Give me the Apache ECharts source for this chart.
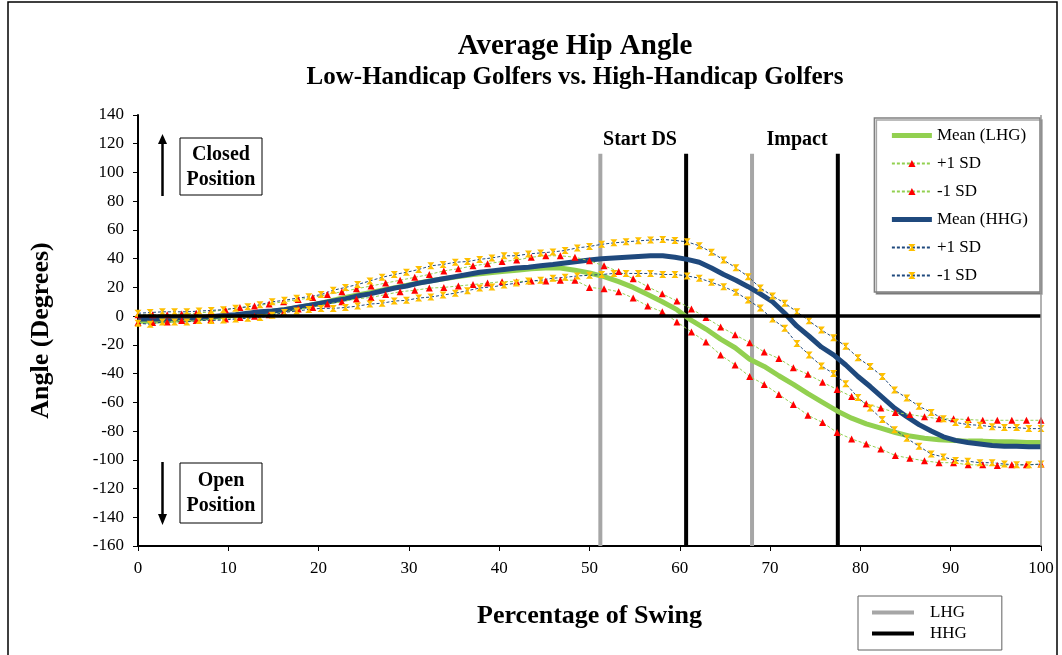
<!DOCTYPE html>
<html>
<head>
<meta charset="utf-8">
<script src="https://cdn.jsdelivr.net/npm/echarts@6/dist/echarts.min.js"></script>
<style>
  html, body { margin: 0; padding: 0; background: #fff; }
  #hip-angle { width: 1062px; height: 655px; }
</style>
</head>
<body>
<div id="hip-angle"></div>
<script>
// sample positions (% of swing) for each group
const lhgX = Array.from({ length: 63 }, (_, i) => +(i * 100 / 62).toFixed(2));
const hhgX = Array.from({ length: 75 }, (_, i) => +(i * 100 / 74).toFixed(2));

// low-handicap golfers
const lhgMean = [-3.5, -3.5, -3, -2.5, -2, -1, 0, 1, 2, 3, 4.5, 6, 8, 10, 12.5, 14.5, 16.5, 18.5, 20.5, 22.5,
  24.5, 26, 27.5, 29, 30, 31, 32, 33, 33.5, 33.5, 32, 30, 27.5, 24, 20, 15, 10, 4.5, -3, -9,
  -16, -22, -30, -35, -41.5, -47.5, -54, -60, -66, -71, -75, -78, -81, -83.5, -85, -86, -86.5, -87, -87, -87.5,
  -87.5, -88, -88];
const lhgPlus = [1, 1, 1, 1.5, 2, 3, 4.5, 6, 7, 8.5, 10, 11.5, 13, 15, 17, 19, 21, 23, 25, 27,
  29, 31.5, 33, 35, 36.5, 38, 39, 41, 42, 42, 41, 38.5, 35, 31, 26, 20.5, 15.5, 10.5, 5, -1,
  -7.5, -13, -18.5, -25, -29.5, -36, -40.5, -46, -51, -56, -61, -64, -67, -68.5, -70, -71.5, -71.5, -72, -72.5, -72.5,
  -72.5, -72.5, -72.5];
const lhgMinus = [-4.5, -4.5, -4, -3, -3, -2.5, -2, -1, 0, 1, 2.6, 5, 6, 8.4, 10, 12, 13, 15, 17, 18,
  19.5, 20, 21, 22, 23, 24, 24, 24.5, 24.5, 25, 25, 20, 19, 17, 12.6, 7, 3, -4, -11, -18,
  -27, -34, -42, -47.5, -54.5, -61.5, -69, -74, -81, -85.5, -89, -92.5, -97, -99, -100.7, -102, -102, -103.5, -103.5, -104,
  -103.5, -103.5, -103];

// high-handicap golfers
const hhgMean = [-2, -2, -2, -1.5, -1.5, -1, -0.5, 0.5, 1, 2, 3, 3.5, 4.5, 6, 7.5, 9, 10.5, 12, 14, 15.5,
  17.5, 19.5, 21, 23, 24.5, 26, 27.5, 29, 30.5, 31.5, 32.5, 33.5, 34, 35, 36, 37, 38, 39, 40, 40.5,
  41, 41.5, 42, 42, 41, 39.5, 37.5, 33.5, 29, 25, 20.5, 15.5, 10, 2, -7, -14, -21.5, -27, -34, -42,
  -49, -56.5, -64, -70, -75.5, -80, -84, -86.5, -88, -89, -90, -90.5, -90.5, -91, -91];
const hhgPlus = [2, 2.5, 3, 3, 3, 3.5, 4, 4.5, 5.5, 6.5, 8, 10, 11, 12.5, 13.5, 15, 18, 20, 22, 24.5,
  27, 29, 30.5, 32.5, 35, 36, 37.5, 38, 39.5, 40.5, 42, 42, 43.3, 44, 44.7, 45.7, 47.5, 48.5, 50, 51,
  51.7, 52.4, 53, 53.4, 52.7, 51.7, 49, 44.5, 39, 33.6, 27.5, 19.6, 14, 9, 3, -3.3, -9.6, -15, -21, -29,
  -35, -42, -51.5, -57, -62.7, -67, -71.5, -74, -75.5, -76, -77, -77.6, -77.6, -78.3, -78.3];
const hhgMinus = [-5, -5.6, -4, -4, -4, -3, -3, -2.7, -2, -1.5, -1, 0.7, 2.6, 3.5, 4.7, 5.4, 5.4, 6, 7, 8.4,
  9, 10.5, 11, 12.6, 13.3, 14.7, 16, 17.7, 19.6, 20.3, 21.7, 23, 24.4, 25, 26.4, 27, 28, 28.4, 29, 29.7,
  29.7, 29.7, 29.7, 29, 29, 28, 26.4, 23.5, 20.5, 16.7, 11.2, 5.6, -2, -8.4, -19, -27, -34.7, -40, -47, -56.6,
  -64, -72, -79, -85, -90.6, -96, -98, -100.5, -101, -102, -102, -103, -103.5, -103.5, -103];

// start of downswing and impact (% of swing)
const lhgEvents = [51.2, 68.0];
const hhgEvents = [60.7, 77.5];
const eventTop = 113;

const legendNames = {
  'Mean (LHG)': 'Mean (LHG)', '+1 SD (LHG)': '+1 SD', '-1 SD (LHG)': '-1 SD',
  'Mean (HHG)': 'Mean (HHG)', '+1 SD (HHG)': '+1 SD', '-1 SD (HHG)': '-1 SD'
};

const serif = 'Liberation Serif';
const green = '#92D050';
const navy = '#1F497D';
const hourglass = 'path://M0,0L10,0L6,5L10,10L0,10L4,5Z';

function pairs(xs, ys) {
  return xs.map((x, i) => [x, ys[i]]);
}

function meanSeries(name, xs, ys, color) {
  return {
    name: name, type: 'line', data: pairs(xs, ys), symbol: 'none',
    lineStyle: { color: color, width: 5 }, itemStyle: { color: color }, z: 3
  };
}

function sdSeries(name, xs, ys, lineColor, symbol, symbolColor) {
  return {
    name: name, type: 'line', data: pairs(xs, ys),
    symbol: symbol, symbolSize: 7, showAllSymbol: true,
    lineStyle: { color: lineColor, width: 1, type: [3, 2] },
    itemStyle: { color: symbolColor }, z: 4
  };
}

function eventSeries(name, x, color) {
  return {
    name: name, type: 'line', data: [[x, eventTop], [x, -160]], symbol: 'none',
    lineStyle: { color: color, width: 4 }, itemStyle: { color: color }, z: 2, silent: true
  };
}

// solid thick line in the legend, no dot
function plainLine(name, width) {
  return { name: name, itemStyle: { opacity: 0 }, lineStyle: { width: width } };
}

const chart = echarts.init(document.getElementById('hip-angle'));

const series = [
  meanSeries('Mean (LHG)', lhgX, lhgMean, green),
  sdSeries('+1 SD (LHG)', lhgX, lhgPlus, green, 'triangle', '#FF0000'),
  sdSeries('-1 SD (LHG)', lhgX, lhgMinus, green, 'triangle', '#FF0000'),
  meanSeries('Mean (HHG)', hhgX, hhgMean, navy),
  sdSeries('+1 SD (HHG)', hhgX, hhgPlus, navy, hourglass, '#FFC000'),
  sdSeries('-1 SD (HHG)', hhgX, hhgMinus, navy, hourglass, '#FFC000')
];
lhgEvents.forEach(x => series.push(eventSeries('LHG', x, '#A6A6A6')));
hhgEvents.forEach(x => series.push(eventSeries('HHG', x, '#000000')));

// zero line and right border of plot area
series[0].markLine = {
  silent: true, symbol: 'none', label: { show: false },
  data: [
    { yAxis: 0, lineStyle: { color: '#000', width: 3.5, type: 'solid' } },
    { xAxis: 100, lineStyle: { color: '#999', width: 1.5, type: 'solid' } }
  ]
};

const option = {
  animation: false,
  backgroundColor: '#fff',
  textStyle: { fontFamily: serif },
  title: {
    text: 'Average Hip Angle',
    subtext: 'Low-Handicap Golfers vs. High-Handicap Golfers',
    left: 570, top: 27, textAlign: 'center', itemGap: 4,
    textStyle: { fontFamily: serif, fontSize: 29, fontWeight: 'bold', color: '#000' },
    subtextStyle: { fontFamily: serif, fontSize: 25, fontWeight: 'bold', color: '#000' }
  },
  grid: { left: 138, right: 21, top: 115, bottom: 109 },
  legend: [
    {
      data: [plainLine('Mean (LHG)', 5), '+1 SD (LHG)', '-1 SD (LHG)', plainLine('Mean (HHG)', 5), '+1 SD (HHG)', '-1 SD (HHG)'],
      orient: 'vertical', right: 22, top: 118,
      itemWidth: 40, itemHeight: 9, itemGap: 11,
      padding: [9, 12, 8, 15],
      backgroundColor: '#fff', borderColor: '#808080', borderWidth: 1.5,
      shadowColor: 'rgba(0,0,0,0.35)', shadowOffsetX: 2, shadowOffsetY: 2,
      formatter: name => legendNames[name],
      textStyle: { fontFamily: serif, fontSize: 17, color: '#000' }
    },
    {
      data: [plainLine('LHG', 4), plainLine('HHG', 4)],
      orient: 'vertical', left: 858, top: 596, height: 44,
      itemWidth: 42, itemHeight: 12, itemGap: 4,
      padding: [8, 35, 8, 12],
      backgroundColor: '#fff', borderColor: '#606060', borderWidth: 1,
      textStyle: { fontFamily: serif, fontSize: 17, color: '#000', padding: [0, 0, 0, 11] }
    }
  ],
  xAxis: {
    type: 'value', min: 0, max: 100, interval: 10,
    name: 'Percentage of Swing', nameLocation: 'middle', nameGap: 57,
    nameTextStyle: { fontFamily: serif, fontSize: 26, fontWeight: 'bold', color: '#000' },
    axisLine: { onZero: false, lineStyle: { color: '#000', width: 2 } },
    axisTick: { show: true, length: 5, lineStyle: { color: '#000' } },
    axisLabel: { fontFamily: serif, fontSize: 17, color: '#000', margin: 14 },
    splitLine: { show: false }
  },
  yAxis: {
    type: 'value', min: -160, max: 140, interval: 20,
    name: 'Angle (Degrees)', nameLocation: 'middle', nameGap: 84,
    nameTextStyle: { fontFamily: serif, fontSize: 26, fontWeight: 'bold', color: '#000' },
    axisLine: { show: true, lineStyle: { color: '#000', width: 2 } },
    axisTick: { show: true, length: 5, lineStyle: { color: '#000' } },
    axisLabel: { fontFamily: serif, fontSize: 17, color: '#000', margin: 14 },
    splitLine: { show: false }
  },
  series: series,
  graphic: [
    { type: 'rect', shape: { x: 8, y: 2, width: 1049, height: 680 }, style: { fill: 'none', stroke: '#000', lineWidth: 1.5 }, silent: true },
    // closed position note
    { type: 'line', shape: { x1: 162.5, y1: 196, x2: 162.5, y2: 142 }, style: { stroke: '#000', lineWidth: 2.5 } },
    { type: 'polygon', shape: { points: [[158, 144], [167, 144], [162.5, 134]] }, style: { fill: '#000' } },
    { type: 'rect', shape: { x: 180, y: 138, width: 82, height: 57 }, style: { fill: '#fff', stroke: '#000', lineWidth: 1 } },
    { type: 'text', x: 221, y: 155, style: { text: 'Closed', font: 'bold 20px "Liberation Serif"', fill: '#000', align: 'center', verticalAlign: 'middle' } },
    { type: 'text', x: 221, y: 180, style: { text: 'Position', font: 'bold 20px "Liberation Serif"', fill: '#000', align: 'center', verticalAlign: 'middle' } },
    // open position note
    { type: 'line', shape: { x1: 162.5, y1: 462, x2: 162.5, y2: 516 }, style: { stroke: '#000', lineWidth: 2.5 } },
    { type: 'polygon', shape: { points: [[158, 514], [167, 514], [162.5, 525]] }, style: { fill: '#000' } },
    { type: 'rect', shape: { x: 180, y: 463, width: 82, height: 60 }, style: { fill: '#fff', stroke: '#000', lineWidth: 1 } },
    { type: 'text', x: 221, y: 481, style: { text: 'Open', font: 'bold 20px "Liberation Serif"', fill: '#000', align: 'center', verticalAlign: 'middle' } },
    { type: 'text', x: 221, y: 506, style: { text: 'Position', font: 'bold 20px "Liberation Serif"', fill: '#000', align: 'center', verticalAlign: 'middle' } },
    // event labels
    { type: 'text', x: 640, y: 140, style: { text: 'Start DS', font: 'bold 20px "Liberation Serif"', fill: '#000', align: 'center', verticalAlign: 'middle' } },
    { type: 'text', x: 797, y: 140, style: { text: 'Impact', font: 'bold 20px "Liberation Serif"', fill: '#000', align: 'center', verticalAlign: 'middle' } }
  ]
};

chart.setOption(option);
</script>
</body>
</html>
